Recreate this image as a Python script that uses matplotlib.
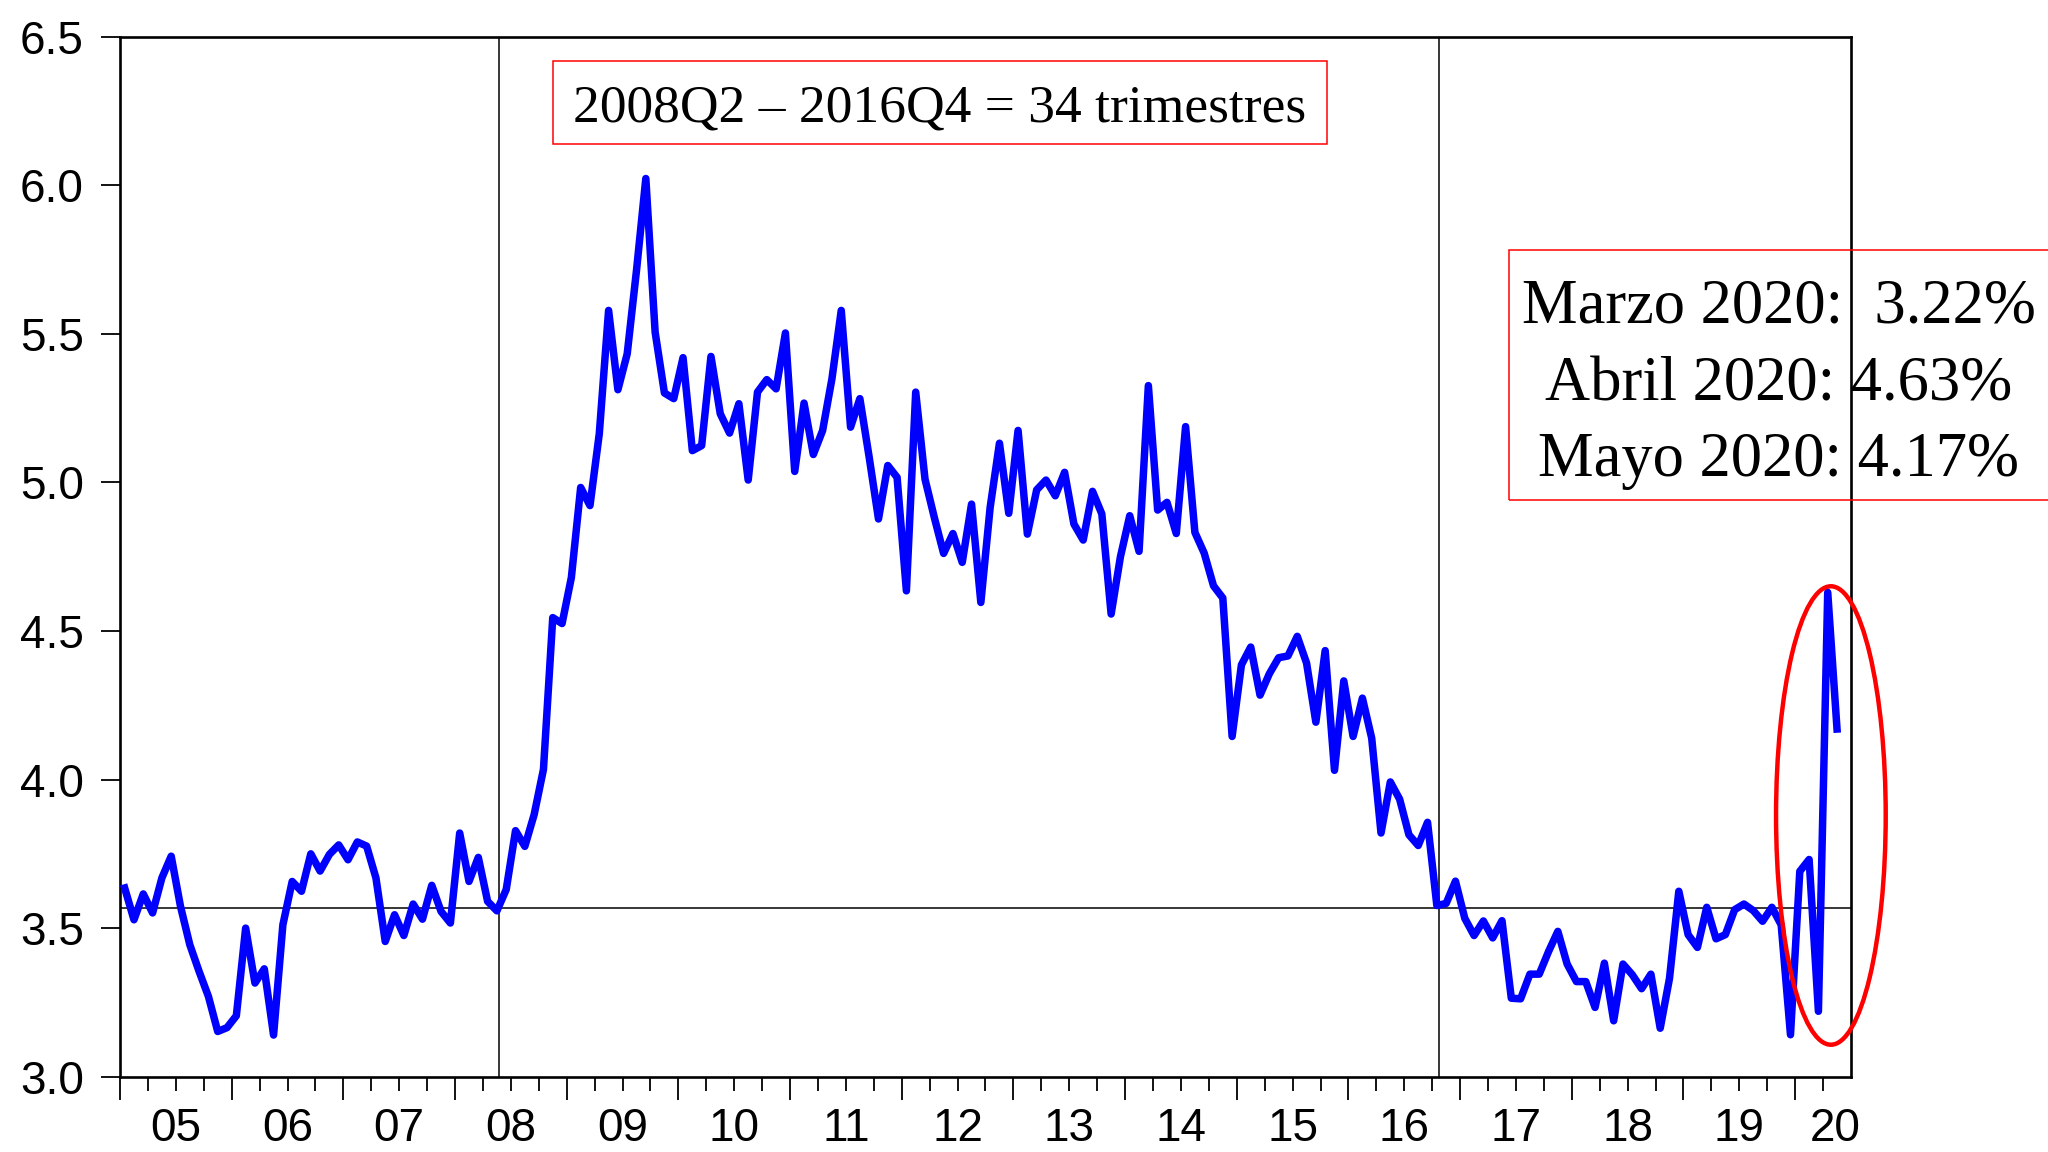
import matplotlib
matplotlib.use("Agg")
import matplotlib.pyplot as plt
from matplotlib.patches import Ellipse, Rectangle
import numpy as np

# monthly rate, Jan 2005 .. May 2020
v2005 = [3.635, 3.528, 3.615, 3.551, 3.669, 3.742, 3.573, 3.444, 3.354, 3.270, 3.152, 3.165]
v2006 = [3.205, 3.500, 3.315, 3.363, 3.140, 3.511, 3.657, 3.624, 3.750, 3.692, 3.748, 3.780]
v2007 = [3.730, 3.790, 3.776, 3.669, 3.455, 3.545, 3.475, 3.581, 3.530, 3.644, 3.556, 3.517]
v2008 = [3.820, 3.657, 3.738, 3.590, 3.558, 3.630, 3.828, 3.775, 3.882, 4.034, 4.545, 4.525]
v2009 = [4.680, 4.983, 4.922, 5.164, 5.579, 5.312, 5.433, 5.714, 6.023, 5.506, 5.301, 5.282]
v2010 = [5.420, 5.107, 5.124, 5.424, 5.231, 5.166, 5.265, 5.008, 5.304, 5.346, 5.315, 5.503]
v2011 = [5.037, 5.267, 5.094, 5.175, 5.349, 5.579, 5.186, 5.282, 5.085, 4.877, 5.057, 5.017]
v2012 = [4.635, 5.304, 5.011, 4.882, 4.761, 4.828, 4.731, 4.927, 4.596, 4.916, 5.132, 4.896]
v2013 = [5.175, 4.826, 4.975, 5.008, 4.955, 5.034, 4.860, 4.806, 4.970, 4.894, 4.557, 4.750]
v2014 = [4.888, 4.768, 5.326, 4.907, 4.933, 4.828, 5.188, 4.832, 4.762, 4.652, 4.611, 4.145]
v2015 = [4.386, 4.446, 4.284, 4.356, 4.410, 4.416, 4.482, 4.392, 4.193, 4.434, 4.031, 4.332]
v2016 = [4.145, 4.274, 4.139, 3.820, 3.992, 3.934, 3.814, 3.778, 3.856, 3.576, 3.583, 3.658]
v2017 = [3.533, 3.475, 3.524, 3.467, 3.525, 3.264, 3.262, 3.345, 3.345, 3.421, 3.489, 3.379]
v2018 = [3.320, 3.320, 3.233, 3.382, 3.188, 3.379, 3.343, 3.296, 3.345, 3.163, 3.331, 3.624]
v2019 = [3.478, 3.435, 3.570, 3.464, 3.478, 3.562, 3.581, 3.559, 3.523, 3.570, 3.511, 3.141]
v2020 = [3.691, 3.731, 3.220, 4.630, 4.170]

start_year = 2005
year_labels = ["05", "06", "07", "08", "09", "10", "11", "12", "13", "14",
               "15", "16", "17", "18", "19", "20"]
y_ticks = [3.0, 3.5, 4.0, 4.5, 5.0, 5.5, 6.0, 6.5]

ref_level = 3.567
ref_start = 2008.39   # 2008Q2
ref_end = 2016.81     # 2016Q4

box_top = "2008Q2 \u2013 2016Q4 = 34 trimestres"
box_right = ["Marzo 2020:  3.22%", "Abril 2020: 4.63%", "Mayo 2020: 4.17%"]

values = np.array(v2005 + v2006 + v2007 + v2008 + v2009 + v2010 + v2011 + v2012
                  + v2013 + v2014 + v2015 + v2016 + v2017 + v2018 + v2019 + v2020)
t = start_year + (np.arange(len(values)) + 0.5) / 12.0

sans = ["Liberation Sans", "DejaVu Sans"]
serif = ["Liberation Serif", "DejaVu Serif"]

fig = plt.figure(figsize=(20.48, 11.52), dpi=100)
ax = fig.add_axes([0.0586, 0.0654, 0.9038 - 0.0586, 0.9681 - 0.0654])

ax.plot(t, values, color="#0000ff", lw=5.4, solid_joinstyle="round", zorder=3)
ax.axhline(ref_level, color="black", lw=1.1, zorder=2)
ax.axvline(ref_start, color="black", lw=1.1, zorder=2)
ax.axvline(ref_end, color="black", lw=1.1, zorder=2)

ax.add_patch(Ellipse((2020.32, 3.879), 0.982, 1.543, fill=False,
                     edgecolor="#ff0000", lw=3.2, clip_on=False, zorder=4))

ax.set_xlim(2005.0, 2020.5)
ax.set_ylim(3.0, 6.5)

years = np.arange(2005, 2021)
ax.set_xticks(years)
ax.set_xticklabels([])
ax.set_xticks(np.arange(2005.0, 2020.5, 0.25), minor=True)
ax.tick_params(axis="x", which="major", direction="out", length=16.5, width=1.3)
ax.tick_params(axis="x", which="minor", direction="out", length=10, width=1.3)

ax.set_yticks(y_ticks)
ax.set_yticklabels([f"{v:.1f}" for v in y_ticks], family=sans, fontsize=33)
ax.tick_params(axis="y", direction="out", length=14, width=1.3, pad=12)

for i, lab in enumerate(year_labels):
    xpos = years[i] + 0.5 if i < len(year_labels) - 1 else 2020.36
    ax.annotate(lab, xy=(xpos, 0), xycoords=("data", "axes fraction"),
                xytext=(0, -46), textcoords="offset points",
                ha="center", va="baseline", fontsize=33, family=sans,
                annotation_clip=False)

for s in ax.spines.values():
    s.set_linewidth(1.9)

# annotation boxes
fig.patches.append(Rectangle((0.2698, 0.8753), 0.648 - 0.2698, 0.9467 - 0.8753,
                             transform=fig.transFigure, fill=False,
                             edgecolor="#ff0000", lw=1.1))
fig.text(0.4589, 0.911, box_top, ha="center", va="center_baseline",
         fontsize=38.5, family=serif)

fig.patches.append(Rectangle((0.7366, 0.5658), 0.28, 0.7834 - 0.5658,
                             transform=fig.transFigure, fill=False,
                             edgecolor="#ff0000", lw=1.1))
for line, yy in zip(box_right, [0.7392, 0.6713, 0.6055]):
    fig.text(0.8686, yy, line, ha="center", va="center_baseline",
             fontsize=45, family=serif)

fig.savefig("out.png", dpi=100)
